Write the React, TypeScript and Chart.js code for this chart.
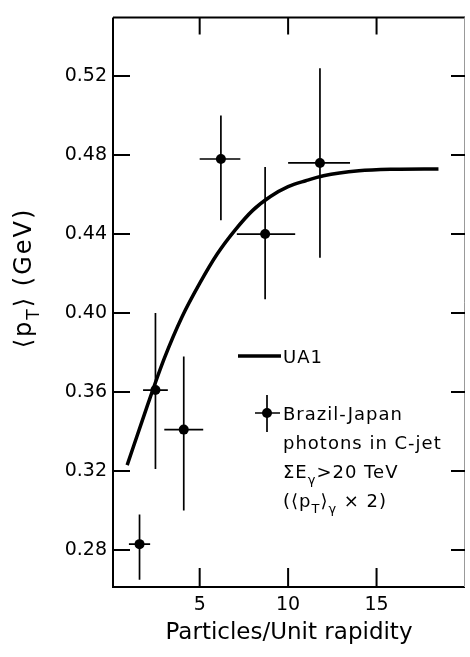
import React, { useEffect, useRef } from "react";
import { Chart, registerables } from "chart.js";

Chart.register(...registerables);

const FONT = "'DejaVu Sans', sans-serif";

// Brazil-Japan data points with error bars
const xVals = [1.6, 2.5, 4.1, 6.2, 8.7, 11.8];
const yVals = [0.283, 0.361, 0.341, 0.478, 0.44, 0.476];
const xLow = [1.0, 1.8, 3.0, 5.0, 7.1, 10.0];
const xHigh = [2.2, 3.2, 5.2, 7.3, 10.4, 13.5];
const yLow = [0.265, 0.321, 0.3, 0.447, 0.407, 0.428];
const yHigh = [0.298, 0.4, 0.378, 0.5, 0.474, 0.524];

// UA1 curve
const ua1X = [0.9, 2.0, 3.0, 4.0, 5.0, 6.0, 7.0, 8.0, 9.0, 10.0, 11.0, 12.0, 14.0, 16.0, 18.5];
const ua1Y = [0.323, 0.352, 0.377, 0.398, 0.415, 0.43, 0.442, 0.452, 0.459, 0.464, 0.467, 0.4695, 0.472, 0.4728, 0.473];

// tick labels
const xTicks = [5, 10, 15];
const yTicks = [0.28, 0.32, 0.36, 0.4, 0.44, 0.48, 0.52];

type Part = [string, "n" | "s"];

function drawRich(ctx: CanvasRenderingContext2D, parts: Part[], x: number, y: number, size: number) {
  let cx = x;
  for (const [t, k] of parts) {
    const fs = k === "s" ? size * 0.72 : size;
    ctx.font = `${fs}px ${FONT}`;
    const dy = k === "s" ? size * 0.32 : 0;
    ctx.fillText(t, cx, y + dy);
    cx += ctx.measureText(t).width;
  }
  return cx - x;
}

function measureRich(ctx: CanvasRenderingContext2D, parts: Part[], size: number) {
  let w = 0;
  for (const [t, k] of parts) {
    const fs = k === "s" ? size * 0.72 : size;
    ctx.font = `${fs}px ${FONT}`;
    w += ctx.measureText(t).width;
  }
  return w;
}

const framePlugin = {
  id: "frame",
  beforeDatasetsDraw(chart: any) {
    const { ctx, scales } = chart;
    const x = scales.x;
    const y = scales.y;
    ctx.save();
    ctx.strokeStyle = "#000";
    ctx.lineWidth = 1.7;
    for (let i = 0; i < xVals.length; i++) {
      const px = x.getPixelForValue(xVals[i]);
      const py = y.getPixelForValue(yVals[i]);
      ctx.beginPath();
      ctx.moveTo(px, y.getPixelForValue(yLow[i]));
      ctx.lineTo(px, y.getPixelForValue(yHigh[i]));
      ctx.moveTo(x.getPixelForValue(xLow[i]), py);
      ctx.lineTo(x.getPixelForValue(xHigh[i]), py);
      ctx.stroke();
    }
    ctx.restore();
  },
  afterDraw(chart: any) {
    const { ctx, chartArea: a, scales } = chart;
    const x = scales.x;
    const y = scales.y;
    ctx.save();
    ctx.strokeStyle = "#000";
    ctx.fillStyle = "#000";
    // frame
    ctx.lineWidth = 2;
    ctx.beginPath();
    ctx.moveTo(a.left, a.top);
    ctx.lineTo(a.left, a.bottom);
    ctx.lineTo(a.right, a.bottom);
    ctx.moveTo(a.left, a.top);
    ctx.lineTo(a.right, a.top);
    ctx.stroke();
    ctx.strokeStyle = "#999";
    ctx.lineWidth = 1;
    ctx.beginPath();
    ctx.moveTo(a.right - 0.5, a.top);
    ctx.lineTo(a.right - 0.5, a.bottom);
    ctx.stroke();
    // inward ticks
    ctx.strokeStyle = "#000";
    ctx.lineWidth = 2;
    ctx.beginPath();
    for (const v of yTicks) {
      const py = y.getPixelForValue(v);
      ctx.moveTo(a.left, py);
      ctx.lineTo(a.left + 17, py);
      ctx.moveTo(a.right, py);
      ctx.lineTo(a.right - 14, py);
    }
    for (const v of xTicks) {
      const px = x.getPixelForValue(v);
      ctx.moveTo(px, a.bottom);
      ctx.lineTo(px, a.bottom - 19);
      ctx.moveTo(px, a.top);
      ctx.lineTo(px, a.top + 17);
    }
    ctx.stroke();

    // y-axis title
    ctx.save();
    ctx.translate(31, 278);
    ctx.rotate(-Math.PI / 2);
    (ctx as any).letterSpacing = "2px";
    ctx.textBaseline = "alphabetic";
    const yTitle: Part[] = [["⟨p", "n"], ["T", "s"], ["⟩ (GeV)", "n"]];
    const tw = measureRich(ctx, yTitle, 24);
    drawRich(ctx, yTitle, -tw / 2, 0, 24);
    ctx.restore();

    // legend
    ctx.lineWidth = 3.5;
    ctx.beginPath();
    ctx.moveTo(238, 356);
    ctx.lineTo(281, 356);
    ctx.stroke();
    ctx.lineWidth = 1.7;
    ctx.beginPath();
    ctx.moveTo(267, 395);
    ctx.lineTo(267, 432);
    ctx.moveTo(255, 413);
    ctx.lineTo(280, 413);
    ctx.stroke();
    ctx.beginPath();
    ctx.arc(267, 413, 5, 0, Math.PI * 2);
    ctx.fill();

    (ctx as any).letterSpacing = "1px";
    ctx.textBaseline = "alphabetic";
    drawRich(ctx, [["UA1", "n"]], 283, 363, 18);
    drawRich(ctx, [["Brazil-Japan", "n"]], 283, 420, 18);
    drawRich(ctx, [["photons in C-jet", "n"]], 283, 449, 18);
    drawRich(ctx, [["ΣE", "n"], ["γ", "s"], [">20 TeV", "n"]], 283, 478, 18);
    drawRich(ctx, [["(⟨p", "n"], ["T", "s"], ["⟩", "n"], ["γ", "s"], [" × 2)", "n"]], 283, 507, 18);
    ctx.restore();
  },
};

export default function App() {
  const ref = useRef<HTMLCanvasElement | null>(null);
  useEffect(() => {
    document.body.style.margin = "0";
    const canvas = ref.current;
    if (!canvas) return;
    const chart = new Chart(canvas, {
      type: "scatter",
      data: {
        datasets: [
          {
            label: "Brazil-Japan",
            data: xVals.map((v, i) => ({ x: v, y: yVals[i] })),
            pointRadius: 5,
            pointBackgroundColor: "#000",
            pointBorderColor: "#000",
            pointBorderWidth: 0,
            showLine: false,
          },
          {
            label: "UA1",
            data: ua1X.map((v, i) => ({ x: v, y: ua1Y[i] })),
            showLine: true,
            pointRadius: 0,
            borderColor: "#000",
            borderWidth: 3.5,
            cubicInterpolationMode: "monotone",
            fill: false,
          } as any,
        ],
      },
      options: {
        animation: false,
        responsive: false,
        devicePixelRatio: 1,
        layout: { padding: { top: 5, right: 1, left: 0, bottom: 0 } },
        plugins: { legend: { display: false }, tooltip: { enabled: false } },
        scales: {
          x: {
            type: "linear",
            min: 0.1,
            max: 20,
            grid: { display: false, drawTicks: false },
            border: { display: false },
            afterBuildTicks: (s: any) => {
              s.ticks = xTicks.map((v) => ({ value: v }));
            },
            afterFit: (s: any) => {
              s.height = 70;
            },
            ticks: {
              color: "#000",
              font: { family: FONT, size: 19 },
              padding: 7,
              maxRotation: 0,
              callback: (v: any) => String(v),
            },
            title: {
              display: true,
              text: "Particles/Unit rapidity",
              color: "#000",
              font: { family: FONT, size: 23 },
              padding: { top: 0, bottom: 10 },
            },
          },
          y: {
            type: "linear",
            min: 0.2613,
            max: 0.5497,
            grid: { display: false, drawTicks: false },
            border: { display: false },
            afterBuildTicks: (s: any) => {
              s.ticks = yTicks.map((v) => ({ value: v }));
            },
            afterFit: (s: any) => {
              s.width = 113;
            },
            ticks: {
              color: "#000",
              font: { family: FONT, size: 19 },
              padding: 6,
              callback: (v: any) => Number(v).toFixed(2),
            },
          },
        },
      },
      plugins: [framePlugin],
    });
    return () => chart.destroy();
  }, []);
  return <canvas ref={ref} width={470} height={657} style={{ display: "block" }} />;
}
